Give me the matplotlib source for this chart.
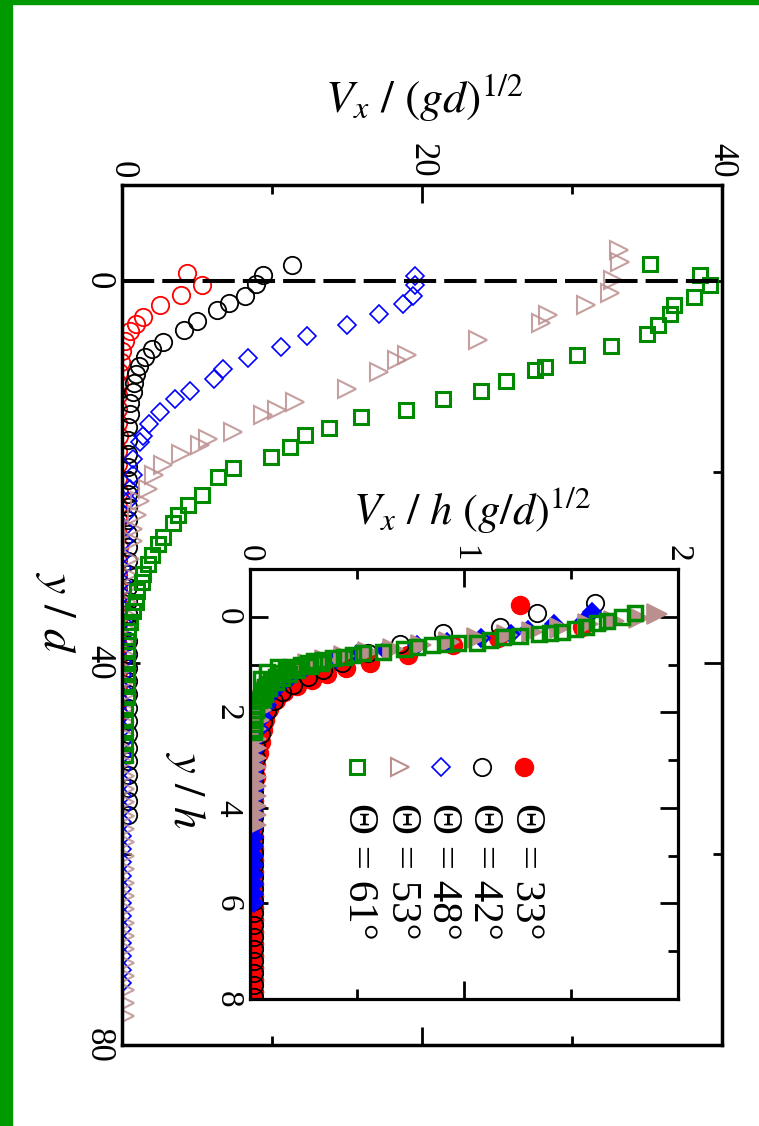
import numpy as np
import matplotlib
matplotlib.use('Agg')
import matplotlib.pyplot as plt
from matplotlib.patches import Rectangle
from matplotlib.ticker import MultipleLocator

plt.rcParams['font.family'] = ['Liberation Serif', 'DejaVu Serif']
plt.rcParams['mathtext.fontset'] = 'stix'

# ---- main panel: (Vx/(gd)^1/2 , y/d) ----
red_main = np.array([
    [4.3, -0.8], [5.3, 0.5], [3.9, 1.5], [2.5, 2.6], [1.4, 3.8], [0.9, 4.5],
    [0.5, 5.3], [0.2, 6.3], [0.0, 7.4], [-0.1, 8.5], [-0.2, 9.6], [-0.2, 10.8],
    [-0.3, 12.0], [-0.3, 13.4], [-0.3, 14.9], [-0.2, 16.3], [-0.3, 17.8], [-0.3, 19.2],
    [-0.3, 20.7], [-0.2, 22.1], [-0.3, 23.6], [-0.3, 25.0], [-0.3, 26.5], [-0.2, 27.9],
    [-0.3, 29.4], [-0.3, 30.8], [-0.3, 32.3], [-0.3, 33.7], [-0.2, 35.2], [-0.3, 36.6],
    [-0.3, 38.1], [-0.3, 39.5], [-0.3, 41.0], [-0.3, 42.4], [-0.3, 43.9], [-0.3, 45.3]])
black_main = np.array([
    [11.3, -1.6], [9.4, -0.6], [8.9, 0.4], [8.2, 1.6], [7.1, 2.4], [6.3, 3.1],
    [5.0, 4.2], [4.1, 5.2], [2.7, 6.4], [2.0, 7.2], [1.5, 8.0], [1.1, 8.9],
    [0.9, 9.8], [0.8, 10.7], [0.7, 11.7], [0.5, 12.8], [0.5, 14.0], [0.4, 15.3],
    [0.4, 16.7], [0.4, 18.1], [0.4, 19.5], [0.4, 20.9], [0.4, 22.3], [0.4, 23.7],
    [0.4, 25.1], [0.4, 26.5], [0.4, 27.9], [0.4, 29.3], [0.4, 30.7], [0.4, 32.1],
    [0.4, 33.5], [0.4, 34.9], [0.4, 36.3], [0.4, 37.7], [0.4, 39.1], [0.4, 40.5],
    [0.4, 41.9], [0.4, 43.3], [0.4, 44.7], [0.4, 46.1], [0.4, 47.5], [0.4, 48.9],
    [0.4, 50.3], [0.4, 51.7], [0.4, 53.1], [0.4, 54.5], [0.4, 55.9]])
blue_main = np.array([
    [19.5, -0.5], [19.5, 0.5], [19.4, 1.6], [18.7, 2.5], [17.1, 3.5], [15.0, 4.7],
    [12.3, 5.8], [10.6, 7.0], [8.4, 8.1], [6.7, 9.3], [6.1, 10.3], [4.5, 11.6],
    [3.5, 12.4], [2.5, 13.8], [1.8, 15.0], [1.4, 16.3], [1.2, 16.9], [0.7, 18.7],
    [0.7, 20.3], [0.5, 21.8], [0.4, 23.1], [0.2, 24.5], [0.1, 25.9], [0.1, 27.3],
    [0.0, 28.7], [0.0, 30.1], [0.0, 31.5], [0.0, 32.9], [0.0, 34.3], [0.0, 35.7],
    [0.0, 37.1], [0.0, 38.5], [0.0, 39.9], [0.0, 41.3], [0.0, 42.7], [0.0, 44.1],
    [0.0, 45.5], [0.0, 46.9], [0.0, 48.3], [0.0, 49.7], [0.0, 51.1], [0.0, 52.5],
    [0.0, 53.9], [0.0, 55.3], [0.0, 56.7], [0.0, 58.1], [0.0, 59.5], [0.0, 60.9],
    [0.0, 62.3], [0.0, 63.7], [0.0, 65.1], [0.0, 66.5], [0.0, 67.9], [0.0, 69.3],
    [0.0, 70.7], [0.0, 72.1], [0.0, 73.5]])
rosy_main = np.array([
    [33.1, -3.2], [33.2, -1.9], [32.7, -0.1], [32.5, 1.3], [30.9, 2.6], [28.4, 3.6],
    [27.9, 4.4], [23.7, 6.2], [19.0, 7.8], [18.3, 8.3], [17.1, 9.6], [15.0, 11.4],
    [11.5, 12.7], [10.3, 13.5], [9.4, 14.1], [7.4, 15.8], [5.7, 16.6], [5.2, 17.2],
    [3.9, 18.2], [2.7, 19.3], [2.1, 20.3], [1.7, 21.8], [1.2, 23.1], [1.0, 24.5],
    [0.7, 26.0], [0.7, 27.3], [0.5, 29.1], [0.4, 30.8], [0.3, 32.2], [0.3, 33.6],
    [0.3, 35.0], [0.2, 36.4], [0.2, 37.8], [0.2, 39.2], [0.2, 40.6], [0.2, 42.0],
    [0.2, 43.4], [0.2, 44.8], [0.2, 46.2], [0.2, 47.6], [0.2, 49.0], [0.2, 50.4],
    [0.2, 51.8], [0.2, 53.2], [0.2, 54.6], [0.2, 56.0], [0.2, 57.4], [0.2, 58.8],
    [0.2, 60.2], [0.2, 61.6], [0.2, 63.0], [0.2, 64.4], [0.2, 65.8], [0.2, 67.2],
    [0.2, 68.6], [0.2, 70.0], [0.2, 71.4], [0.2, 72.8], [0.2, 74.2], [0.2, 75.6],
    [0.2, 77.0]])
green_main = np.array([
    [35.2, -1.7], [38.5, -0.6], [39.2, 0.5], [38.1, 1.7], [36.8, 2.6], [36.5, 3.5],
    [35.7, 4.7], [35.0, 5.6], [32.6, 6.8], [30.3, 7.8], [28.2, 9.0], [27.5, 9.4],
    [25.6, 10.5], [23.9, 11.6], [21.4, 12.4], [18.9, 13.5], [15.9, 14.3], [13.8, 15.4],
    [12.2, 16.2], [11.2, 17.4], [9.9, 18.5], [7.4, 19.6], [6.4, 20.6], [5.3, 22.4],
    [4.4, 23.5], [3.7, 24.5], [3.4, 25.4], [2.7, 26.8], [2.4, 27.6], [2.0, 28.7],
    [1.7, 29.7], [1.4, 30.7], [1.3, 31.5], [1.0, 32.5], [0.9, 33.6], [0.7, 34.6],
    [0.5, 35.7], [0.4, 36.7], [0.3, 37.7], [0.3, 38.8], [0.3, 40.0], [0.3, 41.2],
    [0.3, 42.4], [0.3, 43.6], [0.2, 44.8], [0.2, 46.0], [0.2, 47.2], [0.2, 48.4],
    [0.2, 49.6]])

# ---- inset: (Vx/h (g/d)^1/2 , y/h) ----
red_inset = np.array([
    [1.26, -0.25], [1.55, 0.22], [1.16, 0.45], [0.95, 0.60], [0.74, 0.80], [0.56, 0.96],
    [0.45, 1.08], [0.36, 1.20], [0.29, 1.32], [0.22, 1.44], [0.16, 1.58], [0.12, 1.74],
    [0.09, 1.93], [0.07, 2.15], [0.06, 2.38], [0.05, 2.62], [0.04, 2.86], [0.03, 3.10],
    [0.03, 3.35], [0.02, 3.60], [0.02, 3.85], [0.02, 4.10], [0.02, 4.35], [0.02, 4.60],
    [0.02, 4.85], [0.02, 5.10], [0.02, 5.35], [0.02, 5.60], [0.02, 5.85], [0.02, 6.10],
    [0.02, 6.35], [0.02, 6.60], [0.02, 6.85], [0.02, 7.10], [0.02, 7.35], [0.02, 7.60],
    [0.02, 7.85]])
black_inset = np.array([
    [1.61, -0.28], [1.34, -0.08], [1.17, 0.21], [0.90, 0.33], [0.70, 0.56], [0.55, 0.76],
    [0.43, 0.96], [0.34, 1.12], [0.27, 1.27], [0.20, 1.42], [0.15, 1.58], [0.11, 1.76],
    [0.08, 1.98], [0.06, 2.20], [0.05, 2.45], [0.03, 2.70], [0.03, 2.95], [0.02, 3.20],
    [0.02, 3.45], [0.02, 3.70], [0.02, 3.95], [0.02, 4.20], [0.02, 4.45], [0.02, 4.70],
    [0.02, 4.95], [0.02, 5.20], [0.02, 5.45], [0.02, 5.70], [0.02, 5.95], [0.02, 6.20],
    [0.02, 6.45], [0.02, 6.70], [0.02, 6.95], [0.02, 7.20], [0.02, 7.45], [0.02, 7.70],
    [0.02, 7.95]])
blue_inset = np.array([
    [1.60, -0.10], [1.56, 0.08], [1.42, 0.15], [1.30, 0.28], [1.22, 0.36], [1.08, 0.44],
    [0.92, 0.52], [0.78, 0.60], [0.63, 0.70], [0.50, 0.78], [0.40, 0.88], [0.32, 0.98],
    [0.25, 1.10], [0.19, 1.25], [0.14, 1.42], [0.10, 1.62], [0.08, 1.85], [0.06, 2.10],
    [0.04, 2.35], [0.02, 2.60], [0.02, 2.80], [0.02, 3.00], [0.02, 3.20], [0.02, 3.40],
    [0.02, 3.60], [0.02, 3.80], [0.02, 4.00], [0.02, 4.20], [0.02, 4.40], [0.02, 4.60],
    [0.02, 4.80], [0.02, 5.00], [0.02, 5.20], [0.02, 5.40], [0.02, 5.60], [0.02, 5.80],
    [0.02, 6.00]])
rosy_inset = np.array([
    [1.90, -0.05], [1.82, 0.02], [1.70, 0.08], [1.58, 0.16], [1.45, 0.24], [1.32, 0.32],
    [1.20, 0.38], [1.06, 0.45], [0.93, 0.52], [0.80, 0.59], [0.67, 0.67], [0.55, 0.74],
    [0.44, 0.82], [0.35, 0.90], [0.27, 0.99], [0.20, 1.10], [0.15, 1.23], [0.11, 1.38],
    [0.08, 1.55], [0.06, 1.75], [0.05, 1.95], [0.04, 2.15], [0.03, 2.35], [0.03, 2.55],
    [0.03, 2.75], [0.03, 2.95], [0.03, 3.15], [0.03, 3.35], [0.03, 3.55], [0.03, 3.75],
    [0.03, 3.95], [0.03, 4.15], [0.03, 4.35]])
green_inset = np.array([
    [1.80, -0.08], [1.74, 0.00], [1.67, 0.08], [1.62, 0.13], [1.57, 0.21], [1.52, 0.25],
    [1.46, 0.31], [1.40, 0.33], [1.35, 0.36], [1.26, 0.40], [1.18, 0.42], [1.12, 0.48],
    [1.06, 0.54], [0.97, 0.54], [0.91, 0.56], [0.85, 0.59], [0.78, 0.63], [0.72, 0.67],
    [0.62, 0.73], [0.53, 0.75], [0.48, 0.80], [0.44, 0.84], [0.39, 0.87], [0.34, 0.90],
    [0.33, 0.97], [0.30, 0.93], [0.28, 1.02], [0.27, 0.96], [0.24, 1.00], [0.20, 1.06],
    [0.22, 1.12], [0.13, 1.05], [0.17, 1.12], [0.18, 1.20], [0.08, 1.15], [0.14, 1.18],
    [0.15, 1.28], [0.12, 1.25], [0.05, 1.30], [0.10, 1.32], [0.12, 1.36], [0.08, 1.40],
    [0.09, 1.50], [0.07, 1.48], [0.06, 1.56], [0.07, 1.62], [0.05, 1.65], [0.06, 1.72],
    [0.04, 1.75], [0.03, 1.85], [0.03, 1.95], [0.02, 2.05], [0.02, 2.15], [0.02, 2.25],
    [0.02, 2.35], [0.02, 2.42]])

angle_labels = ['\u0398 = 33\u00b0', '\u0398 = 42\u00b0', '\u0398 = 48\u00b0',
                '\u0398 = 53\u00b0', '\u0398 = 61\u00b0']

W, H = 759, 1126
fig = plt.figure(figsize=(W / 100, H / 100), dpi=100)

# green frame of the scanned figure
fig.add_artist(Rectangle((0, 0), 12 / W, 1, transform=fig.transFigure,
                         color='#009900', zorder=10))
fig.add_artist(Rectangle((0, 1 - 4 / H), 1, 4 / H, transform=fig.transFigure,
                         color='#009900', zorder=10))

ax = fig.add_axes([122 / W, 1 - 1045 / H, 600 / W, 860 / H])
ax.plot(red_main[:, 0], red_main[:, 1], 'o', ms=12.5, mfc='none', mec='red', mew=1.3)
ax.plot(black_main[:, 0], black_main[:, 1], 'o', ms=12.5, mfc='none', mec='k', mew=1.3)
ax.plot(blue_main[:, 0], blue_main[:, 1], 'D', ms=9, mfc='none', mec='blue', mew=1.2)
ax.plot(rosy_main[:, 0], rosy_main[:, 1], '>', ms=13, mfc='none', mec='rosybrown',
        mew=1.5, alpha=0.85)
ax.plot(green_main[:, 0], green_main[:, 1], 's', ms=10.5, mfc='none', mec='#008a00', mew=2.2)
ax.axhline(0, color='k', lw=2.9, linestyle=(0, (8, 2)), zorder=5)

ax.set_xlim(0, 40)
ax.set_ylim(80, -10)
ax.xaxis.set_major_locator(MultipleLocator(20))
ax.xaxis.set_minor_locator(MultipleLocator(10))
ax.yaxis.set_major_locator(MultipleLocator(40))
ax.yaxis.set_minor_locator(MultipleLocator(20))
ax.tick_params(which='both', direction='in', top=True, bottom=True, left=True,
               right=True, labeltop=True, labelbottom=False, width=2)
ax.tick_params(which='major', length=13, labelsize=25, pad=5)
ax.tick_params(which='minor', length=6.5)
for sp in ax.spines.values():
    sp.set_linewidth(2.5)
plt.setp(ax.get_xticklabels(), rotation=-90, ha='center', va='bottom')
plt.setp(ax.get_yticklabels(), rotation=-90, ha='right', va='center')

fig.text(424 / W, 1 - 98 / H, r'$V_x\ /\ (gd)^{1/2}$', ha='center', va='center',
         fontsize=33)
fig.text(55 / W, 1 - 612 / H, r'$y\ /\ d$', rotation=-90, ha='center', va='center',
         fontsize=33)

# ---- inset ----
axin = fig.add_axes([250 / W, 1 - 999 / H, 428 / W, 430 / H])
axin.plot(red_inset[:, 0], red_inset[:, 1], 'o', ms=13, mfc='red', mec='red', mew=1)
axin.plot(black_inset[:, 0], black_inset[:, 1], 'o', ms=12.5, mfc='none', mec='k', mew=1.3)
axin.plot(blue_inset[:, 0], blue_inset[:, 1], 'D', ms=9.5, mfc='blue', mec='blue', mew=1.2)
axin.plot(rosy_inset[:, 0], rosy_inset[:, 1], '>', ms=14, mfc='rosybrown', mec='rosybrown', mew=1.2)
axin.plot(green_inset[:, 0], green_inset[:, 1], 's', ms=10, mfc='none', mec='#008a00', mew=2.5)

axin.set_xlim(0, 2)
axin.set_ylim(8, -1)
axin.xaxis.set_major_locator(MultipleLocator(1))
axin.xaxis.set_minor_locator(MultipleLocator(0.5))
axin.yaxis.set_major_locator(MultipleLocator(2))
axin.yaxis.set_minor_locator(MultipleLocator(1))
axin.tick_params(which='both', direction='in', top=True, bottom=True, left=True,
                 right=True, labeltop=True, labelbottom=False, width=2)
axin.tick_params(which='major', length=13, labelsize=24, pad=5)
axin.tick_params(which='minor', length=7)
for sp in axin.spines.values():
    sp.set_linewidth(2.3)
plt.setp(axin.get_xticklabels(), rotation=-90, ha='center', va='bottom')
plt.setp(axin.get_yticklabels(), rotation=-90, ha='right', va='center')

fig.text(472 / W, 1 - 510 / H, r'$V_x\ /\ h\ (g/d)^{1/2}$', ha='center', va='center',
         fontsize=32)
fig.text(185 / W, 1 - 790 / H, r'$y\ /\ h$', rotation=-90, ha='center', va='center',
         fontsize=32)

# legend, drawn in the rotated layout (marker above, label reading downwards)
leg_styles = [dict(marker='o', mfc='red', mec='red', ms=13),
              dict(marker='o', mfc='none', mec='k', ms=12.5, mew=1.3),
              dict(marker='D', mfc='none', mec='blue', ms=9, mew=1.2),
              dict(marker='>', mfc='none', mec='rosybrown', ms=13, mew=1.5),
              dict(marker='s', mfc='none', mec='#008a00', ms=10, mew=2.2)]
leg_x = [0.64, 0.542, 0.446, 0.35, 0.25]
for lx, lab, st in zip(leg_x, angle_labels, leg_styles):
    axin.plot([lx], [0.54], transform=axin.transAxes, ls='none', clip_on=False, **st)
    axin.text(lx + 0.005, 0.456, lab, transform=axin.transAxes, rotation=-90,
              ha='center', va='top', fontsize=31)

fig.savefig('out.png', dpi=100)
